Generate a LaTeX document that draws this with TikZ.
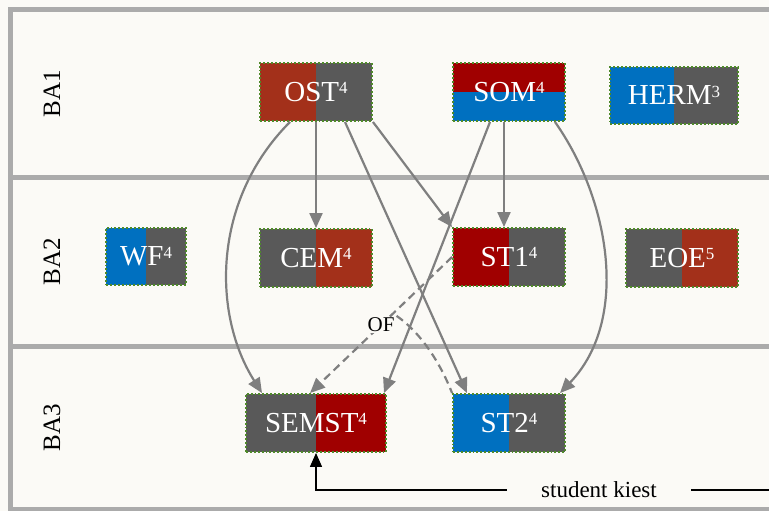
\documentclass[tikz,border=0pt]{standalone}
\usepackage{fontspec}
\setmainfont{Liberation Serif}
\usetikzlibrary{arrows.meta}
\definecolor{bg}{HTML}{FBFAF6}
\definecolor{framegray}{HTML}{ABABAB}
\definecolor{arrgray}{HTML}{7F7F7F}
\definecolor{cred}{HTML}{A3301A}
\definecolor{dred}{HTML}{A00000}
\definecolor{cblue}{HTML}{0070C0}
\definecolor{cgray}{HTML}{595959}
\definecolor{frame}{HTML}{4F8A2A}
\newcommand{\spx}[1]{\raisebox{7.5pt}{\fontsize{17}{17}\selectfont #1}}
\tikzset{
  box/.style={minimum height=58pt, inner sep=0pt, text=white,
    font=\fontsize{29}{31}\selectfont, draw=frame, line width=1.9pt,
    dash pattern=on 1.9pt off 2pt},
  lr/.style 2 args={path picture={
    \fill[#1] (path picture bounding box.south west) rectangle (path picture bounding box.north);
    \fill[#2] (path picture bounding box.north) rectangle (path picture bounding box.south east);}},
  tb/.style 2 args={path picture={
    \fill[#1] (path picture bounding box.north west) rectangle (path picture bounding box.east);
    \fill[#2] (path picture bounding box.west) rectangle (path picture bounding box.south east);}},
  sep/.style={draw=framegray, line width=4.5pt},
  arr/.style={draw=arrgray, line width=2.2pt, -{Triangle[length=15pt,width=13pt]}},
  dsh/.style={dash pattern=on 8pt off 5pt},
  rowlab/.style={rotate=90, font=\fontsize{25}{27}\selectfont},
  blk/.style={draw=black, line width=1.4pt},
}
\begin{document}
\begin{tikzpicture}[x=1pt,y=-1pt]
\useasboundingbox[fill=bg] (0,0) rectangle (769,511);
% frame
\draw[sep] (769,9.5) -- (10.5,9.5) -- (10.5,511);
\draw[sep] (10.5,177.5) -- (769,177.5);
\draw[sep] (10.5,346.5) -- (769,346.5);
\draw[sep] (10.5,509.5) -- (769,509.5);
% row labels
\node[rowlab] (BA1) at (52,94) {BA1};
\node[rowlab] (BA2) at (52,262) {BA2};
\node[rowlab] (BA3) at (52,428) {BA3};
% boxes
\node[box, lr={cred}{cgray}, minimum width=112pt] (OST) at (316,92) {OST\spx{4}};
\node[box, tb={dred}{cblue}, minimum width=112pt] (SOM) at (509,92) {SOM\spx{4}};
\node[box, lr={cblue}{cgray}, minimum width=128pt, minimum height=57pt] (HERM) at (674,95.5) {HERM\spx{3}};
\node[box, lr={cblue}{cgray}, minimum width=80pt, minimum height=57pt] (WF) at (146,256.5) {WF\spx{4}};
\node[box, lr={cgray}{cred}, minimum width=112pt] (CEM) at (316,258) {CEM\spx{4}};
\node[box, lr={dred}{cgray}, minimum width=112pt] (ST1) at (509,257) {ST1\spx{4}};
\node[box, lr={cgray}{cred}, minimum width=112pt] (EOE) at (682,258) {EOE\spx{5}};
\node[box, lr={cgray}{dred}, minimum width=140pt] (SEMST) at (316,423) {SEMST\spx{4}};
\node[box, lr={cblue}{cgray}, minimum width=112pt] (ST2) at (509,423) {ST2\spx{4}};
% arrows
\draw[arr] (OST.south) -- (CEM.north);
\draw[arr] ([xshift=-26pt]OST.south) .. controls (212,200) and (212,314) .. ([xshift=-54pt]SEMST.north);
\draw[arr] (OST.south east) -- (ST1.north west);
\draw[arr] ([xshift=29pt]OST.south) -- ([xshift=-42pt]ST2.north);
\draw[arr] ([xshift=-5pt]SOM.south) -- ([xshift=-5pt]ST1.north);
\draw[arr] ([xshift=-19pt]SOM.south) -- ([xshift=68pt]SEMST.north);
\draw[arr] ([xshift=46pt]SOM.south) .. controls (610,200) and (630,320) .. ([xshift=51pt]ST2.north);
\draw[arr, dsh] (ST1.west) -- node[fill=bg, inner sep=1pt, font=\fontsize{21}{23}\selectfont] (OF) {OF} ([xshift=-6pt]SEMST.north);
\draw[draw=arrgray, line width=2.2pt, dsh] (OF.north east) .. controls (420,332) and (440,362) .. (ST2.north west);
% student kiest
\node[inner xsep=34pt, inner ysep=2pt, font=\fontsize{23}{25}\selectfont] (SK) at (599,490) {student kiest};
\coordinate (R) at (769,490);
\draw[blk, -{Triangle[length=14pt,width=12pt]}] (SK.west) -| (SEMST.south);
\draw[blk] (SK.east) -- (R);
\end{tikzpicture}
\end{document}
